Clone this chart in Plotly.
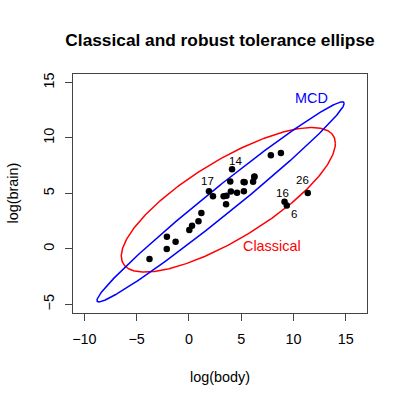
import numpy as np
import plotly.graph_objects as go

# Animals data (body in kg, brain in g)
body = [1.35, 465, 36.33, 27.66, 1.04, 11700, 2547, 187.1, 521, 10, 3.3, 529, 207, 62,
        6654, 9400, 6.8, 35, 0.12, 0.023, 2.5, 55.5, 100, 52.16, 0.28, 87000, 0.122, 192]
brain = [8.1, 423, 119.5, 115, 5.5, 50, 4603, 419, 655, 115, 25.6, 680, 406, 1320,
         5712, 70, 179, 56, 1, 0.4, 12.1, 175, 157, 440, 1.9, 154.5, 3, 180]
labelled = [14, 17, 16, 26, 6]
label_shift = {14: (3, 8), 17: (-1, 10), 16: (-2, 9), 26: (-5, 13), 6: (7, -8)}

# robust (MCD) location and scatter
mcd_center = [3.03, 4.24]
mcd_cov = [[18.97, 14.25], [14.25, 11.03]]

chi2_975 = 7.377758908  # qchisq(0.975, 2)

x = np.log(np.array(body))
y = np.log(np.array(brain))

cl_center = np.array([x.mean(), y.mean()])
cl_cov = np.cov(np.vstack([x, y]))


def ellipse(center, cov, n=400):
    t = np.linspace(0, 2 * np.pi, n)
    L = np.linalg.cholesky(np.array(cov))
    pts = np.sqrt(chi2_975) * (L @ np.vstack([np.cos(t), np.sin(t)]))
    return pts[0] + center[0], pts[1] + center[1]


ex_c, ey_c = ellipse(cl_center, cl_cov)
ex_m, ey_m = ellipse(mcd_center, mcd_cov)

fig = go.Figure()
fig.add_trace(go.Scatter(x=ex_c, y=ey_c, mode="lines", line=dict(color="red", width=1.5),
                         hoverinfo="skip"))
fig.add_trace(go.Scatter(x=ex_m, y=ey_m, mode="lines", line=dict(color="blue", width=1.5),
                         hoverinfo="skip"))
fig.add_trace(go.Scatter(x=x, y=y, mode="markers",
                         marker=dict(color="black", size=6.5)))

for i in labelled:
    dx, dy = label_shift[i]
    fig.add_annotation(x=x[i - 1], y=y[i - 1], text=str(i), showarrow=False,
                       xshift=dx, yshift=dy, font=dict(size=11.5, color="black"))

fig.add_annotation(x=11.76, y=13.57, text="MCD", showarrow=False,
                   font=dict(size=14.4, color="blue"))
fig.add_annotation(x=7.99, y=0.27, text="Classical", showarrow=False,
                   font=dict(size=14.4, color="red"))

# axis titles
fig.add_annotation(x=0.5, y=0, xref="paper", yref="paper", text="log(body)",
                   showarrow=False, yshift=-64, xanchor="center", yanchor="middle",
                   font=dict(size=14.4, color="black"))
fig.add_annotation(x=0, y=0.5, xref="paper", yref="paper", text="log(brain)",
                   showarrow=False, xshift=-61, textangle=-90,
                   xanchor="center", yanchor="middle",
                   font=dict(size=14.4, color="black"))

axis_common = dict(showgrid=False, zeroline=False, showline=True, mirror=True,
                   linecolor="#444", linewidth=1, ticks="outside", ticklen=7,
                   tickcolor="#444", tickfont=dict(size=14.4, color="black"),
                   automargin=False)
fig.update_xaxes(range=[-11.09, 17.04], tickvals=[-10, -5, 0, 5, 10, 15],
                 ticktext=["\u221210", "\u22125", "0", "5", "10", "15"],
                 ticklabelstandoff=6, **axis_common)
fig.update_yaxes(range=[-5.78, 15.77], tickvals=[-5, 0, 5, 10, 15],
                 ticktext=["\u22125", "0", "5", "10", "15"], tickangle=-90,
                 ticklabelstandoff=5, **axis_common)

fig.update_layout(
    width=405, height=405, showlegend=False,
    plot_bgcolor="white", paper_bgcolor="white",
    font=dict(family="Liberation Sans, Arial, sans-serif", color="black"),
    margin=dict(l=73, r=38, t=74, b=92, autoexpand=False),
    title=dict(text="<b>Classical and robust tolerance ellipse</b>", x=0.5, xanchor="center",
               xref="paper", y=1 - 40 / 405, yanchor="middle",
               font=dict(size=17.3, color="black")),
)

fig.write_html("out.html", config={"displayModeBar": False},
               post_script="document.body.style.margin='0';")
